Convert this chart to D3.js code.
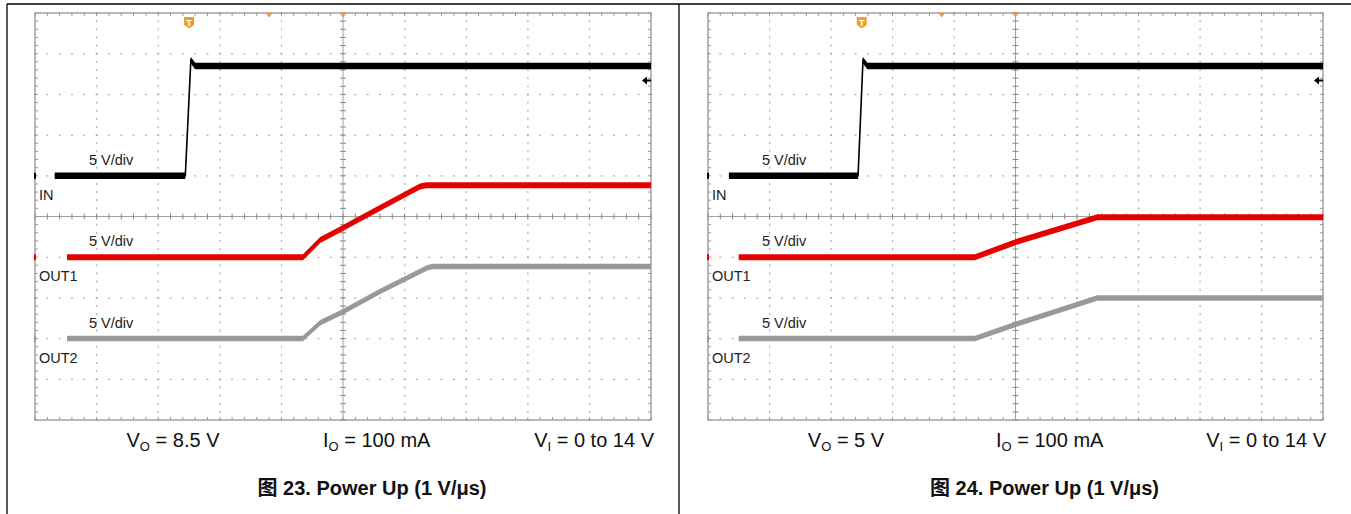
<!DOCTYPE html>
<html>
<head>
<meta charset="utf-8">
<script src="https://cdn.jsdelivr.net/npm/d3@7"></script>
<style>
  body { margin: 0; background: #fff; }
  svg { display: block; font-family: "Liberation Sans", Arial, sans-serif; }
</style>
</head>
<body>
<svg width="1351" height="514"></svg>
<script>
// ---- data (time in divisions, value in volts) ----
var captions = ["图 23. Power Up (1 V/μs)", "图 24. Power Up (1 V/μs)"];
var voutValues = ["8.5 V", "5 V"];
var ioValue = "100 mA";
var viValue = "0 to 14 V";
var channelNames = ["IN", "OUT1", "OUT2"];
var channelScales = ["5 V/div", "5 V/div", "5 V/div"];
var channelGround = [6, 4, 2];      // channel offset, divisions from bottom
var voltsPerDiv = 5;
var triggerTime = 2.5;
var topMarks = [3.8, 5.0];
var triggerLevel = 11.7;            // V on IN

var in23 = [[0.32, 0], [2.44, 0], [2.53, 14.2], [2.6, 13.5], [10, 13.5]];
var out1_23 = [[0.52, 0], [4.35, 0], [4.63, 2.1], [5.0, 3.6], [5.44, 5.4], [6.25, 8.7], [6.35, 8.85], [10, 8.85]];
var out2_23 = [[0.52, 0], [4.35, 0], [4.63, 1.95], [5.0, 3.3], [5.6, 5.8], [6.37, 8.7], [6.46, 8.85], [10, 8.85]];

var in24 = [[0.34, 0], [2.44, 0], [2.52, 14.2], [2.59, 13.5], [10, 13.5]];
var out1_24 = [[0.5, 0], [4.34, 0], [5.02, 1.9], [6.33, 4.9], [10, 4.9]];
var out2_24 = [[0.5, 0], [4.34, 0], [5.02, 1.8], [6.33, 5.0], [10, 5.0]];

var traces = [[in23, out1_23, out2_23], [in24, out1_24, out2_24]];

// ---- layout ----
var svg = d3.select("svg");
var colors = ["#000000", "#e60000", "#999999"];
var bandWidth = [6.5, 6, 5.5];
var plots = [{left: 35, right: 651}, {left: 708, right: 1323}];
var plotTop = 13, plotBottom = 420;

// table frame
svg.append("line").attr("x1", 7).attr("x2", 1351).attr("y1", 4).attr("y2", 4).attr("stroke", "#000").attr("stroke-width", 1.3);
svg.append("line").attr("x1", 7).attr("x2", 7).attr("y1", 4).attr("y2", 514).attr("stroke", "#000").attr("stroke-width", 1.3);
svg.append("line").attr("x1", 679).attr("x2", 679).attr("y1", 4).attr("y2", 514).attr("stroke", "#000").attr("stroke-width", 1.3);

var y = d3.scaleLinear().domain([0, 10]).range([plotBottom, plotTop]);
var minor = d3.range(0, 10.001, 0.2);

plots.forEach(function (p, pi) {
    var x = d3.scaleLinear().domain([0, 10]).range([p.left, p.right]);
    var g = svg.append("g");

    // dotted graticule
    d3.range(1, 10).filter(function (i) { return i !== 5; }).forEach(function (i) {
        g.selectAll(null).data(minor).enter().append("rect")
            .attr("x", x(i) - 0.5).attr("y", function (m) { return y(m) - 1; })
            .attr("width", 1.2).attr("height", 2).attr("fill", "#aaa");
        g.selectAll(null).data(minor).enter().append("rect")
            .attr("x", function (m) { return x(m) - 1; }).attr("y", y(i) - 0.5)
            .attr("width", 2).attr("height", 1.2).attr("fill", "#aaa");
    });

    // center axes
    g.append("line").attr("x1", x(5)).attr("x2", x(5)).attr("y1", plotTop).attr("y2", plotBottom).attr("stroke", "#a0a0a0");
    g.append("line").attr("x1", p.left).attr("x2", p.right).attr("y1", y(5)).attr("y2", y(5)).attr("stroke", "#a0a0a0");
    g.selectAll(null).data(minor).enter().append("line")
        .attr("x1", function (m) { return x(m); }).attr("x2", function (m) { return x(m); })
        .attr("y1", y(5) - 3).attr("y2", y(5) + 3).attr("stroke", "#888");
    g.selectAll(null).data(minor).enter().append("line")
        .attr("y1", function (m) { return y(m); }).attr("y2", function (m) { return y(m); })
        .attr("x1", x(5) - 3).attr("x2", x(5) + 3).attr("stroke", "#888");

    // border with inward ticks
    g.append("rect").attr("x", p.left).attr("y", plotTop).attr("width", p.right - p.left).attr("height", plotBottom - plotTop)
        .attr("fill", "none").attr("stroke", "#8a8a8a").attr("stroke-width", 1.2);
    g.selectAll(null).data(minor).enter().append("path")
        .attr("d", function (m) {
            return "M" + x(m) + "," + plotTop + "v3M" + x(m) + "," + plotBottom + "v-3";
        }).attr("stroke", "#999");
    g.selectAll(null).data(minor).enter().append("path")
        .attr("d", function (m) {
            return "M" + p.left + "," + y(m) + "h3M" + p.right + "," + y(m) + "h-3";
        }).attr("stroke", "#999");

    // traces
    traces[pi].forEach(function (data, ci) {
        var yv = function (d) { return y(channelGround[ci] + d[1] / voltsPerDiv); };
        var area = d3.area()
            .x(function (d) { return x(d[0]); })
            .y0(function (d) { return yv(d) + bandWidth[ci] / 2; })
            .y1(function (d) { return yv(d) - bandWidth[ci] / 2; });
        var line = d3.line()
            .x(function (d) { return x(d[0]); })
            .y(yv);
        g.append("path").attr("d", area(data)).attr("fill", colors[ci]);
        g.append("path").attr("d", line(data)).attr("fill", "none")
            .attr("stroke", colors[ci]).attr("stroke-width", 1.6);

        // ground marker
        var gy = y(channelGround[ci]);
        g.append("rect").attr("x", p.left - 1).attr("y", gy - 3).attr("width", 2).attr("height", 6).attr("fill", colors[ci]);

        // labels
        g.append("text").attr("x", p.left + 54).attr("y", gy - 11)
            .attr("font-size", 14.5).attr("fill", "#222").text(channelScales[ci]);
        g.append("text").attr("x", p.left + 4).attr("y", gy + 24)
            .attr("font-size", 14.5).attr("fill", "#222").text(channelNames[ci]);
    });

    // trigger markers
    var tx = x(triggerTime);
    g.append("path")
        .attr("d", "M" + (tx - 5) + ",17h10v8l-5,3.5l-5,-3.5z")
        .attr("fill", "#f0a028");
    g.append("text").attr("x", tx).attr("y", 25.5).attr("text-anchor", "middle")
        .attr("font-size", 9).attr("font-weight", "bold").attr("fill", "#fff").text("T");
    g.selectAll(null).data(topMarks).enter().append("path")
        .attr("d", function (m) { return "M" + (x(m) - 3.5) + "," + plotTop + "h7l-3.5,4.5z"; })
        .attr("fill", "#f0a028");
    var ty = y(channelGround[0] + triggerLevel / voltsPerDiv);
    g.append("path")
        .attr("d", "M" + (p.right - 9) + "," + ty + "l5,-4v3h4v2h-4v3z")
        .attr("fill", "#000");

    // condition labels
    var cond = g.append("g").attr("font-size", 20).attr("fill", "#111");
    var t1 = cond.append("text").attr("x", p.left + 138).attr("y", 447).attr("text-anchor", "middle");
    t1.append("tspan").text("V");
    t1.append("tspan").attr("font-size", 13).attr("dy", 4).text("O");
    t1.append("tspan").attr("dy", -4).text(" = " + voutValues[pi]);
    var t2 = cond.append("text").attr("x", p.left + 288).attr("y", 447);
    t2.append("tspan").text("I");
    t2.append("tspan").attr("font-size", 13).attr("dy", 4).text("O");
    t2.append("tspan").attr("dy", -4).text(" = " + ioValue);
    var t3 = cond.append("text").attr("x", p.right + 3).attr("y", 447).attr("text-anchor", "end");
    t3.append("tspan").text("V");
    t3.append("tspan").attr("font-size", 13).attr("dy", 4).text("I");
    t3.append("tspan").attr("dy", -4).text(" = " + viValue);

    // caption
    g.append("text").attr("x", x(5) + 29).attr("y", 495).attr("text-anchor", "middle")
        .attr("font-size", 20).attr("font-weight", "bold").attr("fill", "#111")
        .attr("font-family", "'Liberation Sans', 'Noto Sans CJK SC', sans-serif")
        .text(captions[pi]);
});
</script>
</body>
</html>
